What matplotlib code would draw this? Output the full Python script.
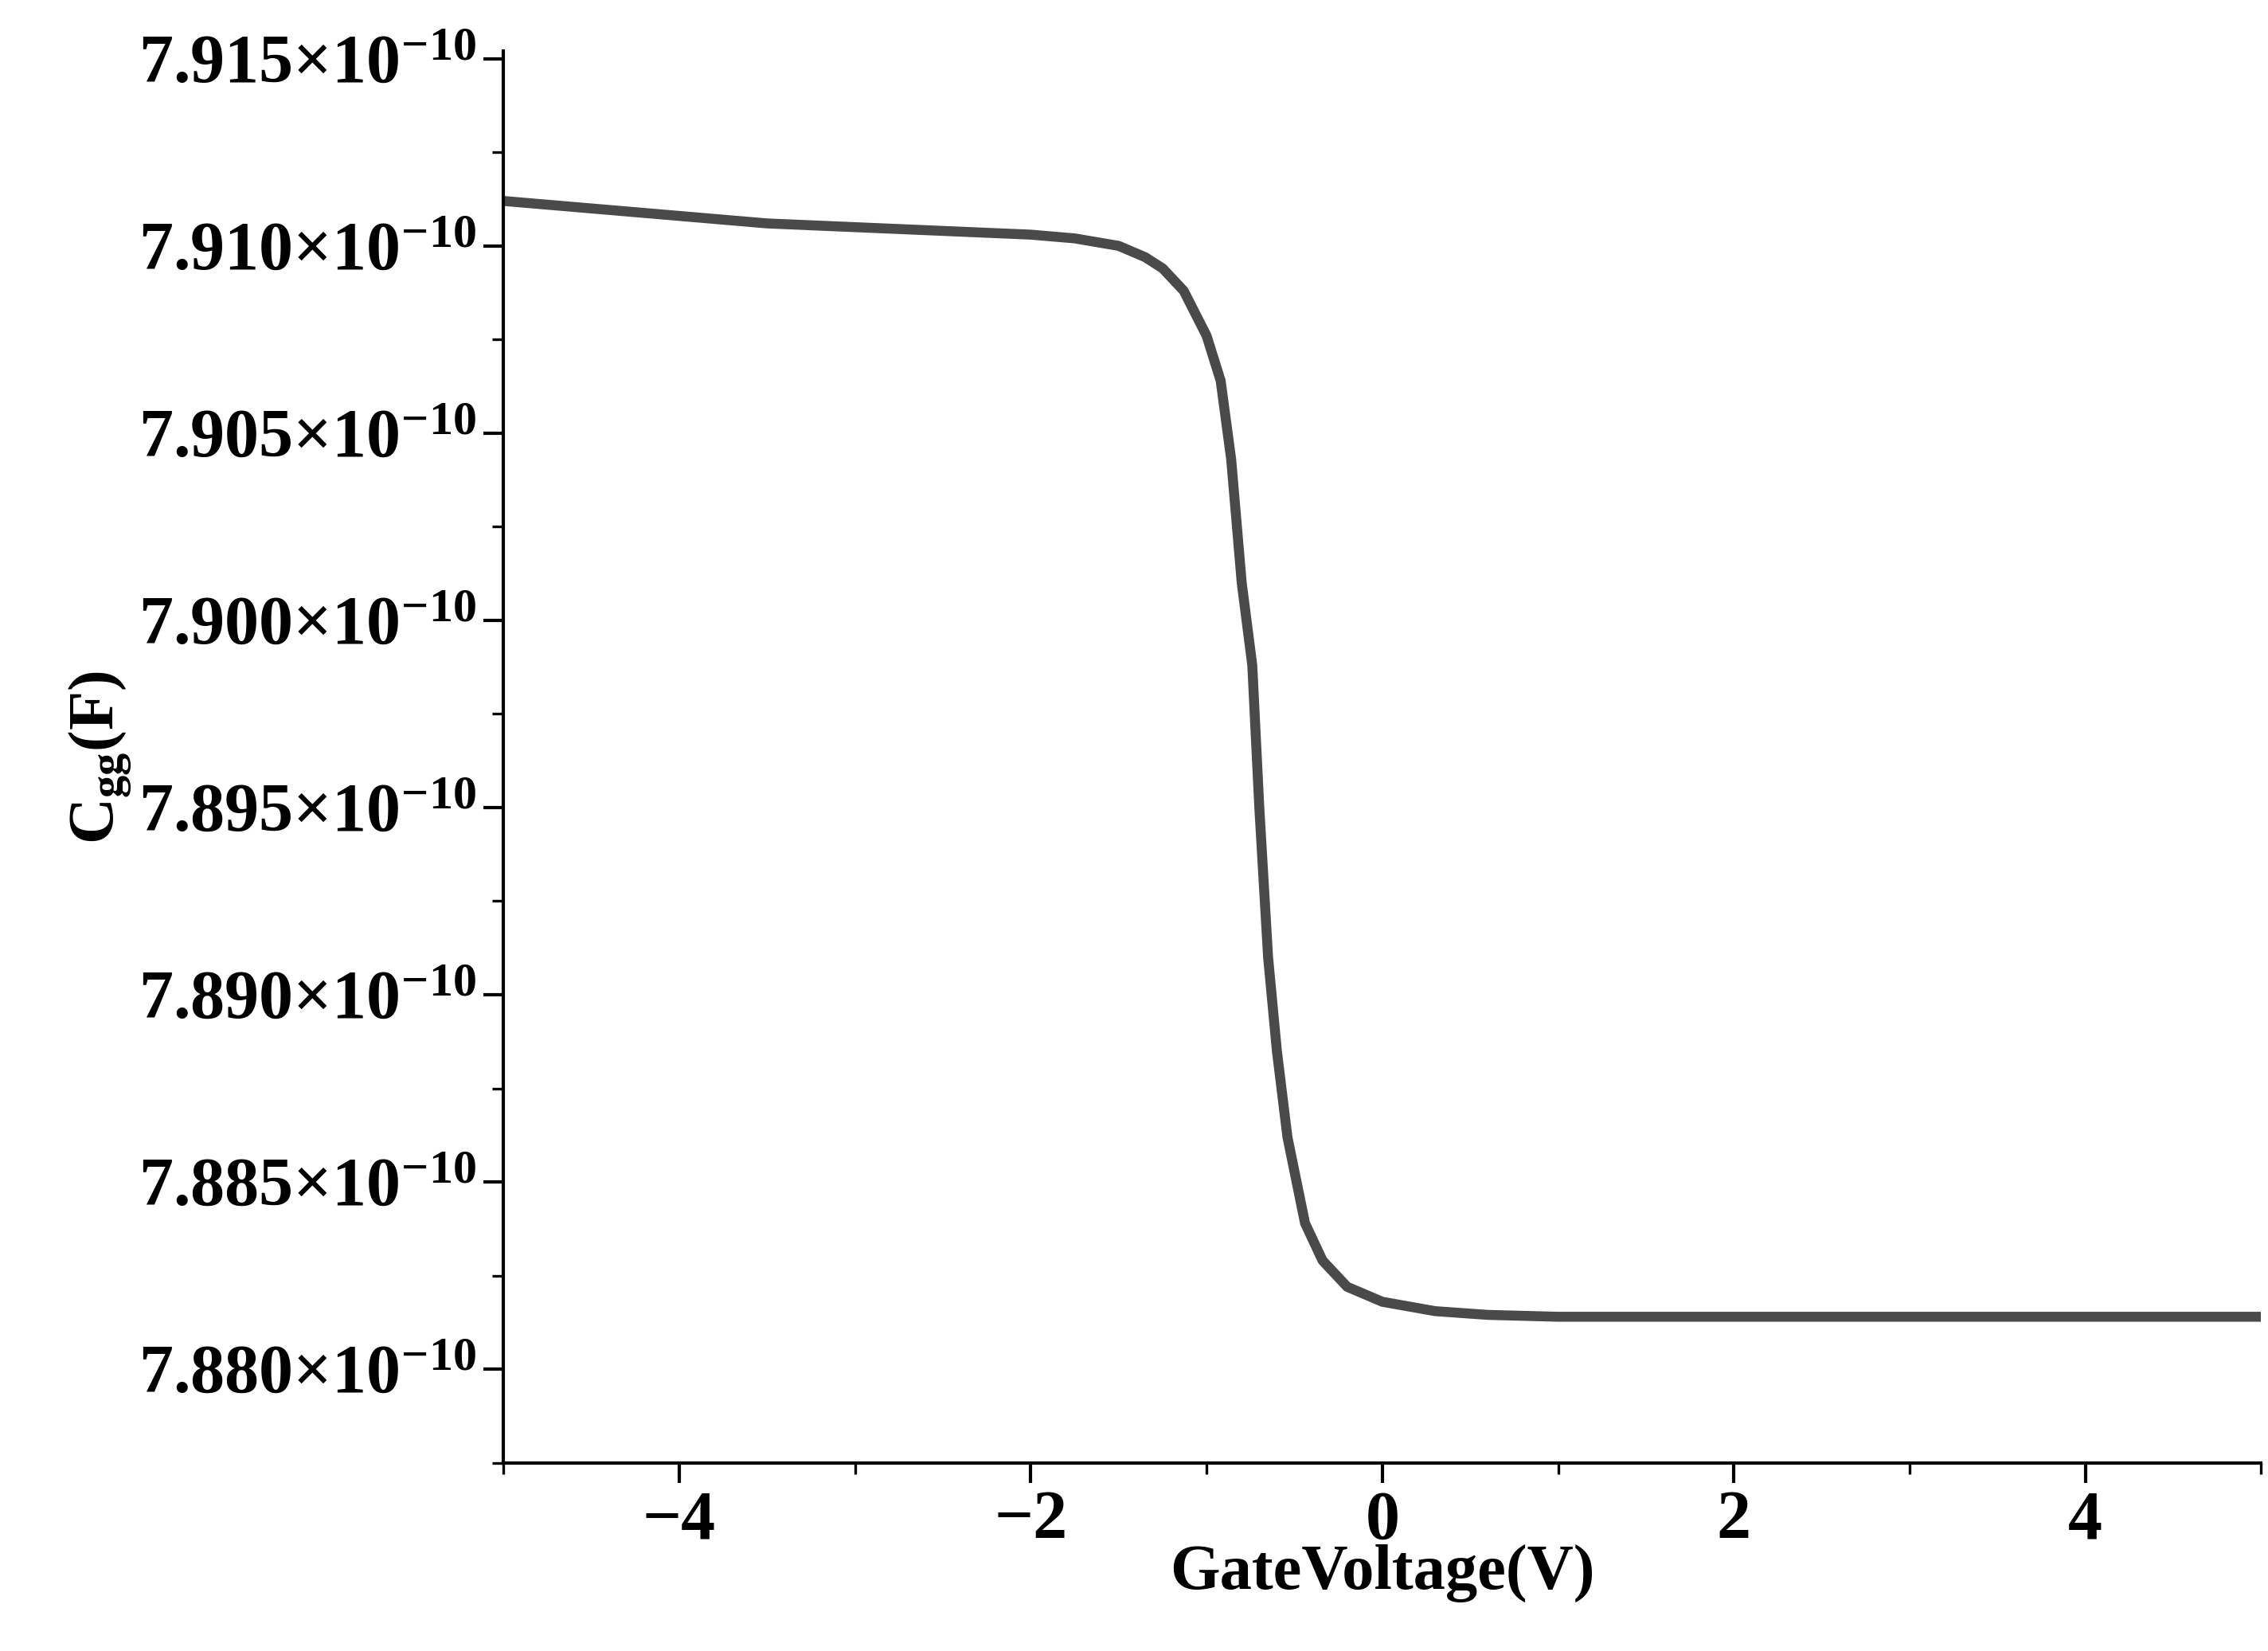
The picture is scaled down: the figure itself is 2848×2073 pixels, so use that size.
import matplotlib
matplotlib.use("Agg")
import matplotlib.pyplot as plt
from matplotlib.ticker import FixedLocator, MultipleLocator, FuncFormatter

plt.rcParams["font.family"] = "Liberation Serif"
plt.rcParams["font.weight"] = "bold"
plt.rcParams["mathtext.fontset"] = "custom"
plt.rcParams["mathtext.rm"] = "Liberation Serif:bold"
plt.rcParams["mathtext.bf"] = "Liberation Serif:bold"

# gate voltage (V) and Cgg in units of 1e-10 F
voltage = [-5.0, -4.5, -4.0, -3.5, -3.0, -2.5, -2.0, -1.75, -1.5, -1.35, -1.25, -1.13,
           -1.0, -0.92, -0.86, -0.80, -0.74, -0.70, -0.65, -0.60, -0.54, -0.44, -0.34,
           -0.2, 0.0, 0.3, 0.6, 1.0, 2.0, 3.0, 4.0, 5.0]
cgg = [7.9112, 7.9110, 7.9108, 7.9106, 7.9105, 7.9104, 7.9103, 7.9102, 7.9100, 7.9097,
       7.9094, 7.9088, 7.9076, 7.9064, 7.9043, 7.9010, 7.8988, 7.8950, 7.8910, 7.8885,
       7.8862, 7.8839, 7.8829, 7.8822, 7.8818, 7.88155, 7.88145, 7.8814, 7.8814,
       7.8814, 7.8814, 7.8814]
y_ticks = [7.880, 7.885, 7.890, 7.895, 7.900, 7.905, 7.910, 7.915]

fig = plt.figure(figsize=(14.24, 10.365), dpi=200)
ax = fig.add_axes([0.222, 0.114, 0.775, 0.855])
ax.plot(voltage, cgg, color="#4a4a4a", lw=4.5, solid_capstyle="round",
        solid_joinstyle="round")

ax.set_xlim(-5, 5)
ax.set_ylim(7.8775, 7.9152)
ax.xaxis.set_major_locator(MultipleLocator(2))
ax.xaxis.set_minor_locator(MultipleLocator(1))
ax.yaxis.set_major_locator(FixedLocator(y_ticks))
ax.yaxis.set_minor_locator(MultipleLocator(0.0025))
ax.yaxis.set_major_formatter(FuncFormatter(
    lambda v, p: r"$\mathbf{%.3f{\times}10^{-10}}$" % v))
ax.xaxis.set_major_formatter(FuncFormatter(
    lambda v, p: ("\u2212%d" % -v) if v < 0 else "%d" % v))

for s in ["top", "right"]:
    ax.spines[s].set_visible(False)
for s in ["left", "bottom"]:
    ax.spines[s].set_linewidth(1.5)
ax.tick_params(which="major", direction="out", length=9, width=1.5, labelsize=31)
ax.tick_params(which="minor", direction="out", length=5, width=1.2)
for lab in ax.get_xticklabels():
    lab.set_fontweight("bold")

ax.set_xlabel("GateVoltage(V)", fontsize=29, fontweight="bold", labelpad=-4)
ax.set_ylabel(r"$\mathbf{C_{gg}(F)}$", fontsize=29, labelpad=2)

fig.savefig("out.png", dpi=200)
